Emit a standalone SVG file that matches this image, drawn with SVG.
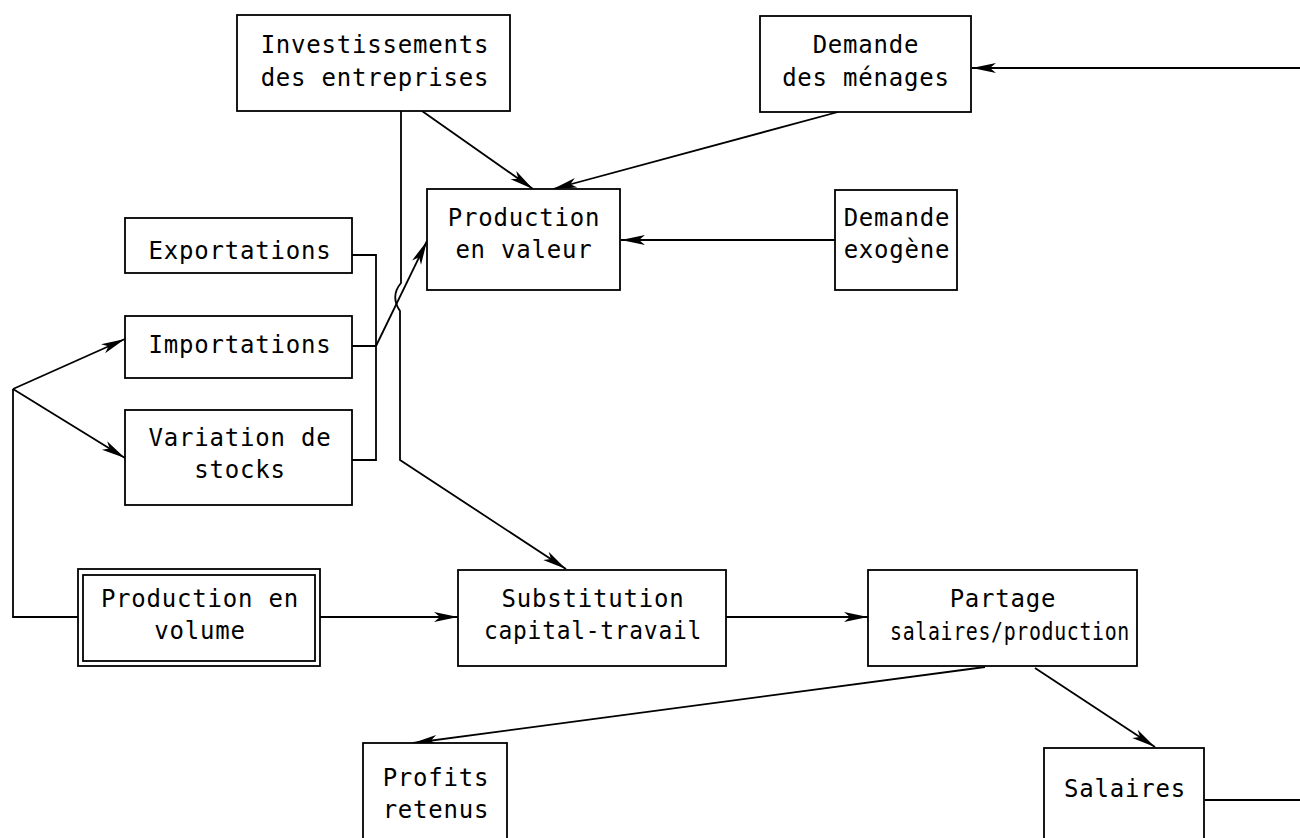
<svg xmlns="http://www.w3.org/2000/svg" width="1300" height="838" viewBox="0 0 1300 838">
<style>
.box{fill:#fff;stroke:#000;stroke-width:1.8}
.t{font-family:"DejaVu Sans Mono","Liberation Mono",monospace;font-size:24px;letter-spacing:0.8px;fill:#000;text-anchor:middle}
.c{fill:none;stroke:#000;stroke-width:1.8}
</style>
<defs>
<marker id="a" markerWidth="24" markerHeight="12" refX="24" refY="6" orient="auto" markerUnits="userSpaceOnUse">
<path d="M0,1 L24,6 L0,11 L6,6 Z" fill="#000"/>
</marker>
</defs>
<rect width="1300" height="838" fill="#fff"/>
<g id="connectors">
<path class="c" d="M1300,68 L972,68" marker-end="url(#a)"/>
<path class="c" d="M422,111 L533,189" marker-end="url(#a)"/>
<path class="c" d="M838,112 L553,189" marker-end="url(#a)"/>
<path class="c" d="M835,240 L621,240" marker-end="url(#a)"/>
<path class="c" d="M352,255 L376,255 L376,460 L352,460 M352,346 L376,346"/>
<path class="c" d="M376,346 L427,241" marker-end="url(#a)"/>
<path class="c" d="M401,111 L401,283 Q390,296 400,311 L400,460 L566,569" marker-end="url(#a)"/>
<path class="c" d="M78,617 L13,617 L13,389"/>
<path class="c" d="M13,389 L125,339" marker-end="url(#a)"/>
<path class="c" d="M13,389 L125,458" marker-end="url(#a)"/>
<path class="c" d="M320,617 L458,617" marker-end="url(#a)"/>
<path class="c" d="M726,617 L868,617" marker-end="url(#a)"/>
<path class="c" d="M985,667 L413,743" marker-end="url(#a)"/>
<path class="c" d="M1035,668 L1155,747" marker-end="url(#a)"/>
<path class="c" d="M1205,800 L1300,800"/>
</g>
<g id="n-invest"><rect class="box" x="237" y="15" width="273" height="96"/><text class="t" x="375" y="53">Investissements</text><text class="t" x="375" y="86">des entreprises</text></g>
<g id="n-menages"><rect class="box" x="760" y="16" width="211" height="96"/><text class="t" x="866" y="53">Demande</text><text class="t" x="866" y="86">des ménages</text></g>
<g id="n-valeur"><rect class="box" x="427" y="189" width="193" height="101"/><text class="t" x="524" y="226">Production</text><text class="t" x="524" y="258">en valeur</text></g>
<g id="n-exogene"><rect class="box" x="835" y="190" width="122" height="100"/><text class="t" x="897" y="226">Demande</text><text class="t" x="897" y="258">exogène</text></g>
<g id="n-export"><rect class="box" x="125" y="218" width="227" height="55"/><text class="t" x="240" y="259">Exportations</text></g>
<g id="n-import"><rect class="box" x="125" y="316" width="227" height="62"/><text class="t" x="240" y="353">Importations</text></g>
<g id="n-stocks"><rect class="box" x="125" y="410" width="227" height="95"/><text class="t" x="240" y="446">Variation de</text><text class="t" x="240" y="478">stocks</text></g>
<g id="n-volume"><rect class="box" x="78" y="569" width="242" height="97"/><rect class="box" x="83" y="575" width="232" height="86"/><text class="t" x="200" y="607">Production en</text><text class="t" x="200" y="639">volume</text></g>
<g id="n-subst"><rect class="box" x="458" y="570" width="268" height="96"/><text class="t" x="593" y="607">Substitution</text><text class="t" x="593" y="639" textLength="218" lengthAdjust="spacingAndGlyphs">capital-travail</text></g>
<g id="n-partage"><rect class="box" x="868" y="570" width="269" height="96"/><text class="t" x="1003" y="607">Partage</text><text class="t" x="1010" y="640" textLength="240" lengthAdjust="spacingAndGlyphs">salaires/production</text></g>
<g id="n-profits"><rect class="box" x="363" y="743" width="144" height="110"/><text class="t" x="436" y="786">Profits</text><text class="t" x="436" y="818">retenus</text></g>
<g id="n-salaires"><rect class="box" x="1044" y="748" width="160" height="105"/><text class="t" x="1125" y="797">Salaires</text></g>
</svg>
